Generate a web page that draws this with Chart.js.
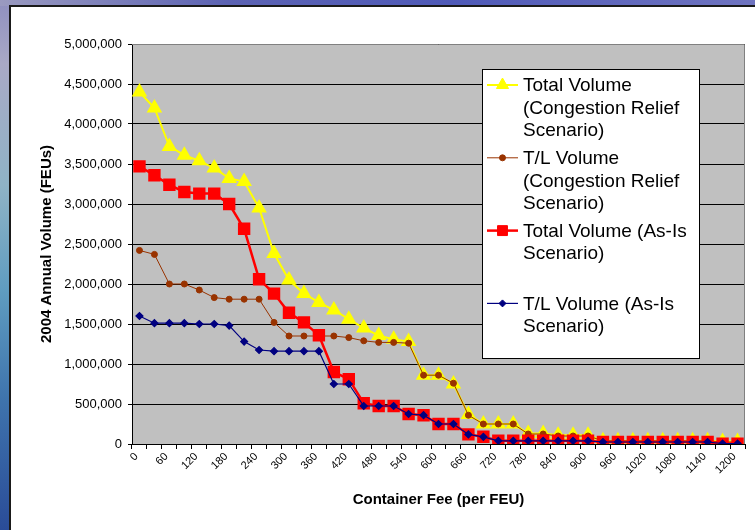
<!DOCTYPE html>
<html>
<head>
<meta charset="utf-8">
<script src="https://cdn.jsdelivr.net/npm/chart.js@4/dist/chart.umd.min.js"></script>
<style>
  html, body { margin: 0; padding: 0; }
  body {
    width: 755px; height: 530px; overflow: hidden; position: relative;
    background: linear-gradient(to bottom, #8f8fbf 0%, #a9a9c6 12%, #8fb3c6 35%, #5f9cc0 55%, #3f74ad 75%, #2a4c98 100%);
  }
  .topband {
    position: absolute; left: 0; top: 0; width: 755px; height: 6px;
    background: linear-gradient(to right, #9a9ac0 0%, #5c63b3 30%, #4f5ab8 60%, #6f74c0 100%);
  }
  .frame {
    position: absolute; left: 9px; top: 5px;
    border-left: 2px solid #1a1a1a; border-top: 2px solid #1a1a1a;
    background: #fff; width: 744px; height: 523px;
  }
  canvas { display: block; }
</style>
</head>
<body>
<div class="topband"></div>
<div class="frame">
  <canvas id="canv-chart" width="744" height="523"></canvas>
</div>
<script>
var fees = ['0','30','60','90','120','150','180','210','240','270','300','330','360','390','420','450',
  '480','510','540','570','600','630','660','690','720','750','780','810','840','870','900','930',
  '960','990','1020','1050','1080','1110','1140','1170','1200'];
var xTickLabels = ['0','60','120','180','240','300','360','420','480','540','600','660','720','780',
  '840','900','960','1020','1080','1140','1200'];
var yTickValues = [0, 500000, 1000000, 1500000, 2000000, 2500000, 3000000, 3500000, 4000000, 4500000, 5000000];

var totalCongestion = [4400000, 4200000, 3720000, 3610000, 3540000, 3450000, 3320000, 3280000, 2950000, 2380000,
  2050000, 1880000, 1770000, 1675000, 1560000, 1450000, 1355000, 1310000, 1280000, 860000,
  860000, 750000, 370000, 250000, 250000, 250000, 130000, 130000, 110000, 110000,
  110000, 40000, 40000, 40000, 40000, 40000, 40000, 40000, 40000, 30000, 30000];
var tlCongestion = [2420000, 2370000, 2000000, 2000000, 1925000, 1830000, 1810000, 1810000, 1810000, 1520000,
  1350000, 1350000, 1350000, 1350000, 1330000, 1290000, 1270000, 1270000, 1260000, 860000,
  860000, 760000, 360000, 250000, 250000, 250000, 125000, 125000, 100000, 100000,
  100000, 40000, 40000, 40000, 40000, 40000, 40000, 40000, 40000, 25000, 25000];
var totalAsIs = [3470000, 3360000, 3240000, 3150000, 3130000, 3130000, 3000000, 2690000, 2060000, 1880000,
  1640000, 1520000, 1360000, 900000, 810000, 510000, 475000, 475000, 375000, 360000,
  250000, 250000, 120000, 90000, 40000, 40000, 40000, 40000, 40000, 40000,
  40000, 25000, 25000, 25000, 25000, 25000, 25000, 25000, 25000, 5000, 5000];
var tlAsIs = [1600000, 1510000, 1510000, 1510000, 1500000, 1500000, 1480000, 1280000, 1175000, 1160000,
  1160000, 1160000, 1160000, 750000, 750000, 475000, 475000, 475000, 375000, 360000,
  250000, 250000, 120000, 90000, 40000, 40000, 40000, 40000, 40000, 40000,
  40000, 25000, 25000, 25000, 25000, 25000, 25000, 25000, 25000, 5000, 5000];

var legendLines = [
  ['Total Volume', '(Congestion Relief', 'Scenario)'],
  ['T/L Volume', '(Congestion Relief', 'Scenario)'],
  ['Total Volume (As-Is', 'Scenario)'],
  ['T/L Volume (As-Is', 'Scenario)']
];

var FONT = 'Arial, "Liberation Sans", sans-serif';

// gray plot area + gray border
var plotArea = {
  id: 'plotArea',
  beforeDraw: function (chart) {
    var a = chart.chartArea, c = chart.ctx;
    c.save();
    c.fillStyle = '#c0c0c0';
    c.fillRect(a.left, a.top, a.right - a.left, a.bottom - a.top);
    c.restore();
  },
  beforeDatasetsDraw: function (chart) {
    var a = chart.chartArea, c = chart.ctx;
    c.save();
    c.strokeStyle = '#808080';
    c.lineWidth = 1;
    c.beginPath();
    c.moveTo(a.left, a.top + 0.5);
    c.lineTo(a.right - 0.5, a.top + 0.5);
    c.lineTo(a.right - 0.5, a.bottom);
    c.stroke();
    c.restore();
  }
};

// boxed legend with wrapped labels
var boxLegend = {
  id: 'boxLegend',
  afterDraw: function (chart) {
    var c = chart.ctx;
    var bx = 471, by = 62, bw = 217, bh = 289;
    c.save();
    c.fillStyle = '#fff';
    c.fillRect(bx, by, bw, bh);
    c.strokeStyle = '#000';
    c.lineWidth = 1;
    c.strokeRect(bx + 0.5, by + 0.5, bw, bh);
    c.font = '19px ' + FONT;
    c.textBaseline = 'middle';
    c.textAlign = 'left';
    for (var i = 0; i < legendLines.length; i++) {
      var ds = chart.data.datasets[i];
      var y0 = 78 + 72.8 * i;
      c.strokeStyle = ds.borderColor;
      c.lineWidth = ds.borderWidth;
      c.beginPath();
      c.moveTo(476, y0);
      c.lineTo(507, y0);
      c.stroke();
      c.fillStyle = ds.pointBackgroundColor;
      c.strokeStyle = ds.pointBorderColor;
      c.lineWidth = 1;
      Chart.helpers.drawPoint(c, { pointStyle: ds.pointStyle, radius: ds.pointRadius, borderWidth: 1 }, 491.5, y0);
      c.fillStyle = '#000';
      for (var j = 0; j < legendLines[i].length; j++) {
        c.fillText(legendLines[i][j], 512, y0 + 22.5 * j + 1);
      }
    }
    c.restore();
  }
};

function makeChart() {
  var ctx = document.getElementById('canv-chart');
  new Chart(ctx, {
    type: 'line',
    data: {
      labels: fees,
      datasets: [{
        label: 'Total Volume (Congestion Relief Scenario)',
        data: totalCongestion,
        borderColor: '#ffff00', backgroundColor: '#ffff00',
        borderWidth: 2,
        pointStyle: 'triangle', pointRadius: 7,
        pointBackgroundColor: '#ffff00', pointBorderColor: '#ffff00',
        order: 4
      }, {
        label: 'T/L Volume (Congestion Relief Scenario)',
        data: tlCongestion,
        borderColor: '#993300', backgroundColor: '#993300',
        borderWidth: 1,
        pointStyle: 'circle', pointRadius: 3,
        pointBackgroundColor: '#993300', pointBorderColor: '#993300',
        order: 3
      }, {
        label: 'Total Volume (As-Is Scenario)',
        data: totalAsIs,
        borderColor: '#ff0000', backgroundColor: '#ff0000',
        borderWidth: 2.5,
        pointStyle: 'rect', pointRadius: 7,
        pointBackgroundColor: '#ff0000', pointBorderColor: '#ff0000',
        order: 2
      }, {
        label: 'T/L Volume (As-Is Scenario)',
        data: tlAsIs,
        borderColor: '#000080', backgroundColor: '#000080',
        borderWidth: 1.2,
        pointStyle: 'rectRot', pointRadius: 3.5,
        pointBackgroundColor: '#000080', pointBorderColor: '#000080',
        order: 1
      }]
    },
    options: {
      responsive: false,
      animation: false,
      events: [],
      layout: { padding: { left: 0, right: 10, top: 37, bottom: 0 } },
      plugins: { legend: { display: false }, tooltip: { enabled: false } },
      elements: { line: { tension: 0 }, point: { borderWidth: 1 } },
      scales: {
        x: {
          type: 'category',
          offset: true,
          grid: { offset: true, drawOnChartArea: false, drawTicks: true, tickLength: 5, color: '#000' },
          border: { color: '#000', width: 1 },
          ticks: {
            autoSkip: false, minRotation: 45, maxRotation: 45, padding: 1, labelOffset: -3,
            color: '#000', font: { family: FONT, size: 11 },
            callback: function (v, i) { return i % 2 === 0 ? xTickLabels[i / 2] : ''; }
          },
          title: {
            display: true, text: 'Container Fee (per FEU)', color: '#000',
            font: { family: FONT, size: 15, weight: 'bold' },
            padding: { top: 0, bottom: 21 }
          },
          afterFit: function (s) { s.height = 86; }
        },
        y: {
          min: 0, max: 5000000,
          grid: { color: '#000', lineWidth: 1, drawTicks: true, tickLength: 4, tickColor: '#000' },
          border: { color: '#000', width: 1 },
          afterBuildTicks: function (s) { s.ticks = yTickValues.map(function (v) { return { value: v }; }); },
          ticks: {
            padding: 6, color: '#000', font: { family: FONT, size: 13 },
            callback: function (v) { return Number(v).toLocaleString('en-US'); }
          },
          title: {
            display: true, text: '2004 Annual Volume (FEUs)', color: '#000',
            font: { family: FONT, size: 15, weight: 'bold' },
            padding: { top: 27, bottom: 0 }
          },
          afterFit: function (s) { s.width = 121; }
        }
      }
    },
    plugins: [plotArea, boxLegend]
  });
}

makeChart();
</script>
</body>
</html>
